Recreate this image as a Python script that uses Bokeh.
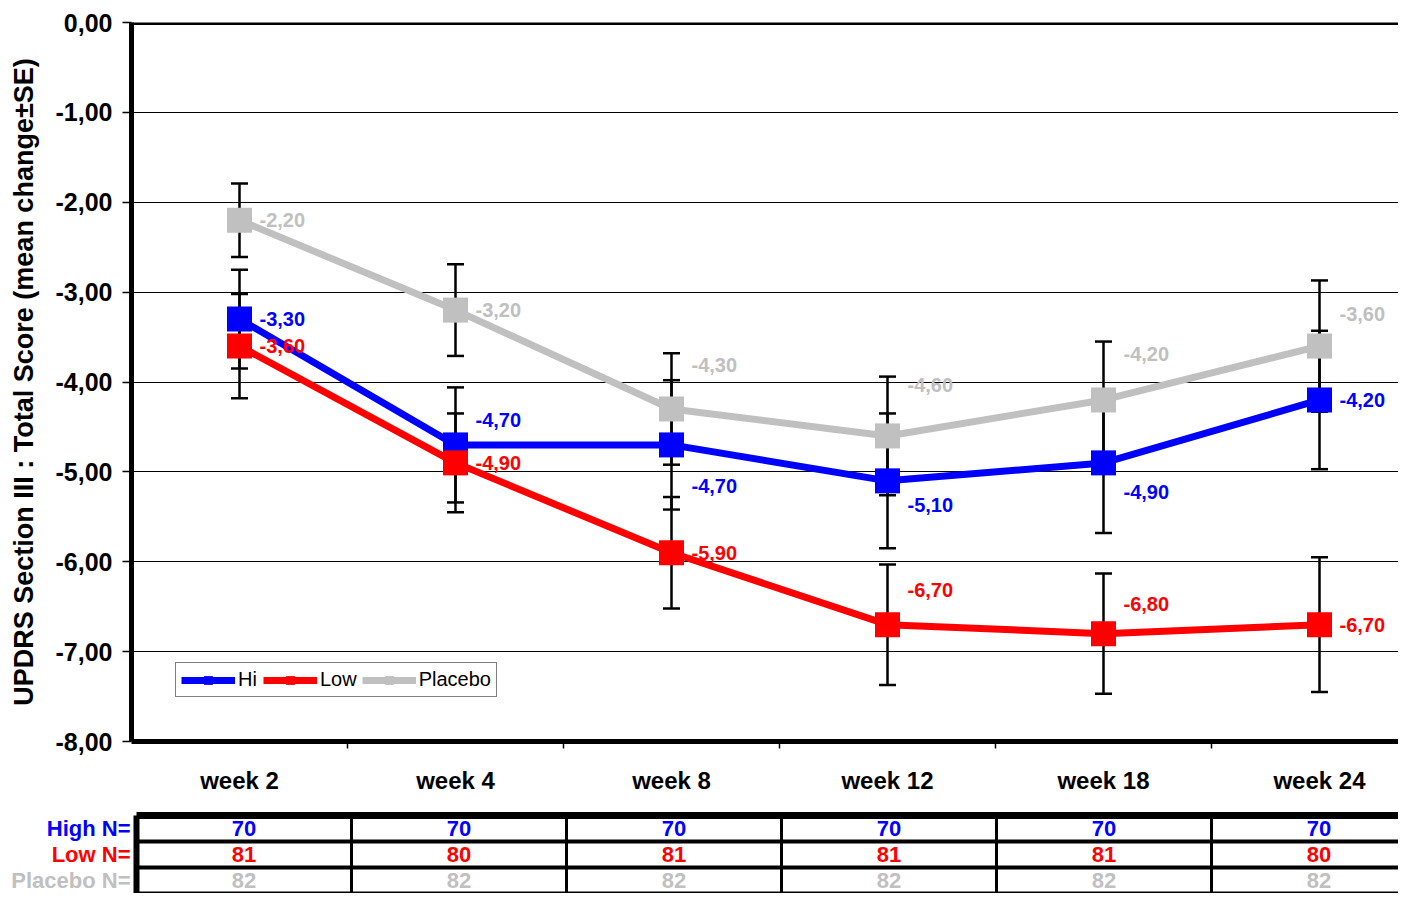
from bokeh.plotting import figure
from bokeh.models import (Range1d, FixedTicker, Span, Legend, LegendItem,
                          ColumnDataSource, CustomJSTickFormatter)
from bokeh.core.properties import value
from bokeh.embed import file_html
from bokeh.resources import INLINE

# ---------------- data ----------------
weeks = ["week 2", "week 4", "week 8", "week 12", "week 18", "week 24"]
series_names = ["Hi", "Low", "Placebo"]
hi_mean = [-3.30, -4.70, -4.70, -5.10, -4.90, -4.20]
low_mean = [-3.60, -4.90, -5.90, -6.70, -6.80, -6.70]
placebo_mean = [-2.20, -3.20, -4.30, -4.60, -4.20, -3.60]
hi_se = [0.55, 0.64, 0.72, 0.75, 0.78, 0.77]
low_se = [0.58, 0.55, 0.62, 0.67, 0.67, 0.75]
placebo_se = [0.41, 0.51, 0.62, 0.66, 0.65, 0.73]
table_row_labels = ["High N=", "Low N=", "Placebo N="]
hi_n = [70, 70, 70, 70, 70, 70]
low_n = [81, 80, 81, 81, 81, 80]
placebo_n = [82, 82, 82, 82, 82, 82]
y_ticks = [-8, -7, -6, -5, -4, -3, -2, -1, 0]

# ---------------- styles ----------------
colors = ["#0000FF", "#FF0000", "#C0C0C0"]
# vertical pixel offsets of the value labels (style only)
hi_label_dy = [0, -25, 41, 24, 29, 0]
low_label_dy = [0, 0, 0, -35, -30, 0]
placebo_label_dy = [0, 0, -44, -51, -46, -32]
FONT_NAME = "Liberation Sans"
FONT = value(FONT_NAME)

W = 1398
LEFT = 131
CAT_PX = 216

xs = list(range(len(weeks)))
means = [hi_mean, low_mean, placebo_mean]
ses = [hi_se, low_se, placebo_se]
dys = [hi_label_dy, low_label_dy, placebo_label_dy]

p = figure(width=W, height=805,
           x_range=Range1d(-0.5, -0.5 + (W - LEFT) / CAT_PX),
           y_range=Range1d(-8, 0),
           output_backend="svg", toolbar_location=None,
           min_border_left=LEFT, min_border_right=0,
           min_border_top=22, min_border_bottom=64)
p.outline_line_color = None
p.background_fill_color = "white"
p.xgrid.visible = False
p.ygrid.ticker = FixedTicker(ticks=y_ticks)
p.ygrid.grid_line_color = "black"
p.ygrid.grid_line_width = 1.2

# y axis
p.yaxis.ticker = FixedTicker(ticks=y_ticks)
p.yaxis.formatter = CustomJSTickFormatter(code="return tick.toFixed(2).replace('.', ',');")
p.yaxis.axis_line_width = 5
p.yaxis.axis_line_color = "black"
p.yaxis.major_tick_out = 9
p.yaxis.major_tick_in = 0
p.yaxis.major_tick_line_width = 1.5
p.yaxis.minor_tick_line_color = None
p.yaxis.major_label_text_font = FONT_NAME
p.yaxis.major_label_text_font_size = "25px"
p.yaxis.major_label_text_font_style = "bold"
p.yaxis.major_label_text_color = "black"
p.yaxis.major_label_standoff = 10
p.yaxis.axis_label = "UPDRS Section III : Total Score (mean change\u00b1SE)"
p.yaxis.axis_label_text_font = FONT_NAME
p.yaxis.axis_label_text_font_size = "27px"
p.yaxis.axis_label_text_font_style = "bold"
p.yaxis.axis_label_text_color = "black"
p.yaxis.axis_label_standoff = 14

# x axis
p.xaxis.ticker = FixedTicker(ticks=xs, minor_ticks=[i + 0.5 for i in xs[:-1]])
p.xaxis.major_label_overrides = {i: w for i, w in zip(xs, weeks)}
p.xaxis.major_tick_line_color = None
p.xaxis.major_tick_out = 0
p.xaxis.major_tick_in = 0
p.xaxis.minor_tick_out = 7
p.xaxis.minor_tick_in = 0
p.xaxis.minor_tick_line_width = 1.5
p.xaxis.minor_tick_line_color = "black"
p.xaxis.axis_line_width = 5
p.xaxis.axis_line_color = "black"
p.xaxis.major_label_text_font = FONT_NAME
p.xaxis.major_label_text_font_size = "24px"
p.xaxis.major_label_text_font_style = "bold"
p.xaxis.major_label_text_color = "black"
p.xaxis.major_label_standoff = 18

p.add_layout(Span(location=0, dimension="width", line_color="black", line_width=5))

# error bars
for m, s in zip(means, ses):
    lo = [a - b for a, b in zip(m, s)]
    hi = [a + b for a, b in zip(m, s)]
    src = ColumnDataSource(dict(x=xs, lo=lo, hi=hi))
    p.segment(x0="x", y0="lo", x1="x", y1="hi", source=src,
              line_color="black", line_width=2.5)
    p.scatter(x="x", y="lo", source=src, marker="dash", size=17,
              line_color="black", line_width=2.5)
    p.scatter(x="x", y="hi", source=src, marker="dash", size=17,
              line_color="black", line_width=2.5)

legend_items = []
for name, m, c in zip(series_names, means, colors):
    src = ColumnDataSource(dict(x=xs, y=m))
    ln = p.line(x="x", y="y", source=src, line_color=c, line_width=7)
    sc = p.scatter(x="x", y="y", source=src, marker="square", size=25,
                   fill_color=c, line_color=None)
    legend_items.append(LegendItem(label=name, renderers=[ln, sc]))

for m, c, dy in zip(means, colors, dys):
    src = ColumnDataSource(dict(x=xs, y=m, dy=dy,
                                t=[f"{v:.2f}".replace(".", ",") for v in m]))
    p.text(x="x", y="y", text="t", source=src, x_offset=20, y_offset="dy",
           text_color=c, text_font=FONT, text_font_style="bold",
           text_font_size="20px", text_align="left", text_baseline="middle")

legend = Legend(items=legend_items, location=(44, 44), orientation="horizontal",
                glyph_width=54, glyph_height=22, label_height=22,
                label_standoff=3, spacing=5, padding=5, margin=0,
                label_text_font=FONT_NAME, label_text_font_size="20px",
                label_text_color="black",
                border_line_color="black", border_line_width=1.5,
                background_fill_color="white", background_fill_alpha=1)
p.add_layout(legend)

# ---------------- table (separate root, full-width frame) ----------------
TAB_PX = 215
TAB_LEFT = 136
tx0 = -0.5 - TAB_LEFT / TAB_PX
t = figure(width=W, height=88,
           x_range=Range1d(tx0, tx0 + W / TAB_PX),
           y_range=Range1d(2.5, -23 / 26),
           output_backend="svg", toolbar_location=None,
           x_axis_location=None, y_axis_location=None,
           min_border_left=0, min_border_right=0,
           min_border_top=0, min_border_bottom=0)
t.outline_line_color = None
t.grid.visible = False

nrows = len(table_row_labels)
ncols = len(weeks)
hy = [-0.5 + k for k in range(nrows + 1)]
hw = [7] + [4] * nrows
t.segment(x0=[-0.5] * len(hy), y0=hy, x1=[ncols] * len(hy), y1=hy,
          line_color="black", line_width=hw)
vx = [-0.5 + k for k in range(ncols)]
vw = [6] + [3] * (ncols - 1)
t.segment(x0=vx, y0=[-0.5] * len(vx), x1=vx, y1=[nrows + 1] * len(vx),
          line_color="black", line_width=vw)

for r, (lab, nvals, c) in enumerate(zip(table_row_labels, [hi_n, low_n, placebo_n], colors)):
    src = ColumnDataSource(dict(x=xs, y=[r] * ncols, t=[str(v) for v in nvals]))
    t.text(x="x", y="y", text="t", source=src, text_color=c, text_font=FONT,
           text_font_style="bold", text_font_size="22px",
           text_align="center", text_baseline="middle")
    t.text(x=[-0.5], y=[r], text=[lab], x_offset=-6, text_color=c,
           text_font=FONT, text_font_style="bold", text_font_size="22px",
           text_align="right", text_baseline="middle")

open("out.html", "w").write(file_html([p, t], INLINE))
